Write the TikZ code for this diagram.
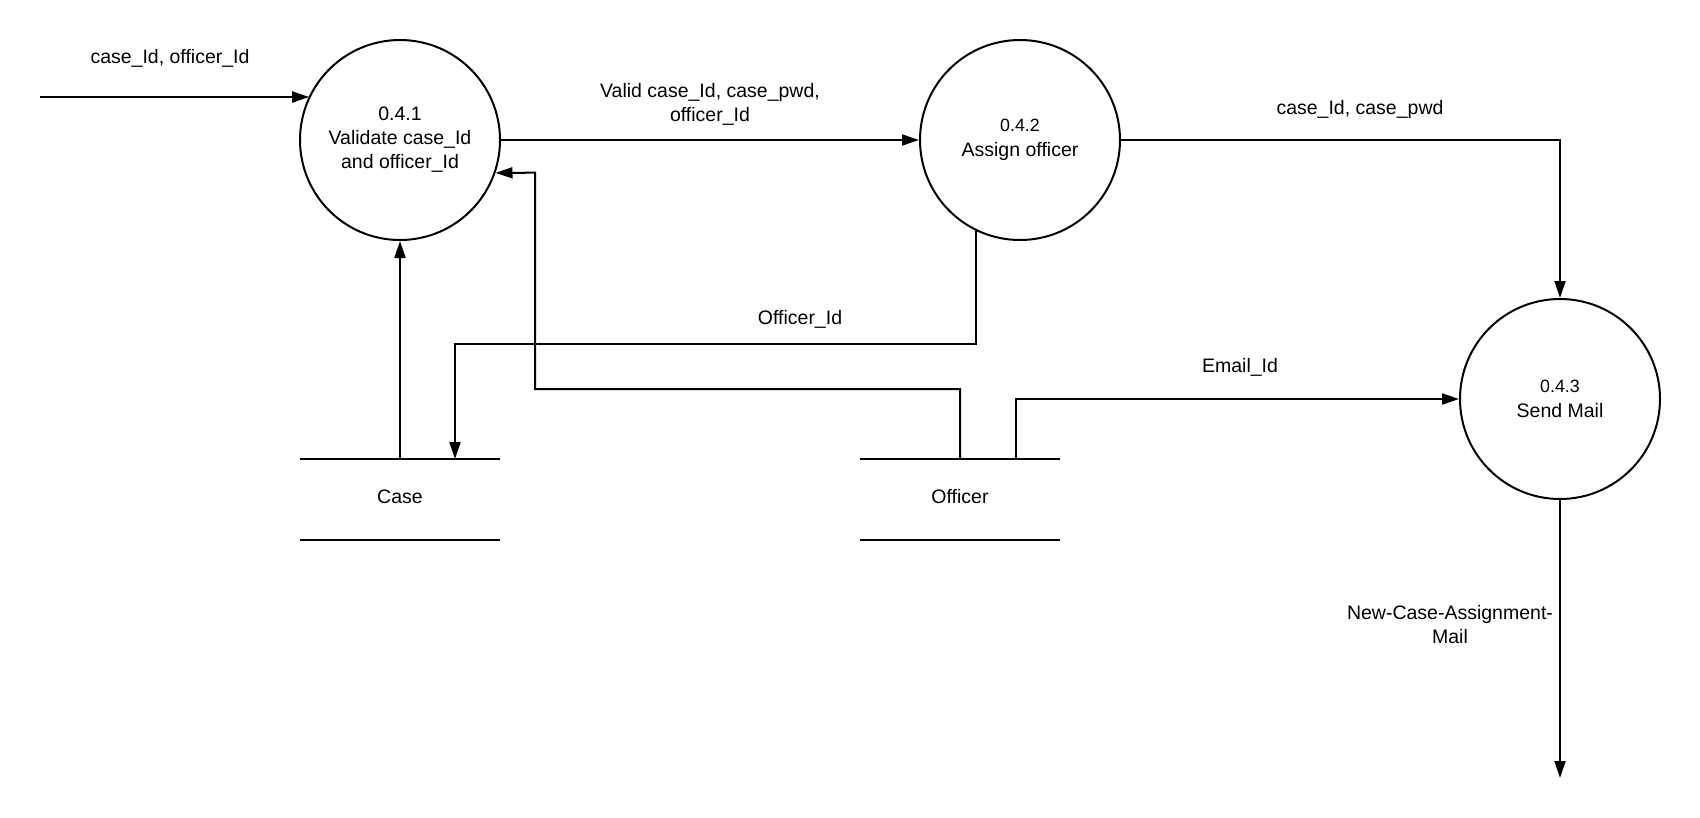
\documentclass[tikz,border=0pt]{standalone}
\usepackage{fontspec}
\setmainfont{Liberation Sans}
\usetikzlibrary{arrows.meta,calc}
\begin{document}
\begin{tikzpicture}[x=1pt,y=-1pt,
  every node/.style={font=\fontsize{19.5}{24}\selectfont, text=black},
  proc/.style={circle, draw=black, line width=2pt, minimum size=200pt, inner sep=0pt, align=center},
  storebox/.style={minimum width=200pt, minimum height=80.5pt, inner sep=0pt},
  storeline/.style={line width=2.2pt},
  flow/.style={line width=2pt, line join=miter, -{Triangle[length=17pt,width=11pt]}},
  lbl/.style={align=center, inner sep=0pt}]
\useasboundingbox[fill=white] (0,0) rectangle (1700,817);

% processes
\node[proc] (p1) at (400,140) {0.4.1\\Validate case\_Id\\and officer\_Id};
\node[proc] (p2) at (1020,140) {{\fontsize{17.8}{22}\selectfont 0.4.2}\\[1pt]Assign officer};
\node[proc] (p3) at (1560,399) {{\fontsize{17.8}{22}\selectfont 0.4.3}\\[1pt]Send Mail};

% data stores
\node[storebox] (case) at (400,499.5) {};
\node[storebox] (officer) at (960,499.5) {};
\node (casetxt) at (400,497) {Case};
\node (officertxt) at (960,497) {Officer};
\draw[storeline] (case.north west) -- (case.north east);
\draw[storeline] (case.south west) -- (case.south east);
\draw[storeline] (officer.north west) -- (officer.north east);
\draw[storeline] (officer.south west) -- (officer.south east);

% free ends
\coordinate (src) at (40,97);
\coordinate (sink) at (1560,778);

% flows
\draw[flow] (src) -- (src -| p1.154.5);
\draw[flow] (p1.east) -- (p2.west);
\draw[flow] (p2.east) -| (p3.north);
\draw[flow] (p2.244) -- (p2.244 |- 0,344) -| (case.north -| 455,0);
\draw[flow] (case.north) -- (p1.south);
\draw[flow] (officer.north) -- (officer.north |- 0,389) -| (535,172.7) -- (p1.-19.1);
\draw[flow] (officer.north -| 1016,0) |- (p3.west);
\draw[flow] (p3.south) -- (sink);

% labels
\node[lbl] (l1) at (170,58) {case\_Id, officer\_Id};
\node[lbl] (l2) at (710,104) {Valid case\_Id, case\_pwd,\\officer\_Id};
\node[lbl] (l3) at (1360,109) {case\_Id, case\_pwd};
\node[lbl] (l4) at (800,319) {Officer\_Id};
\node[lbl] (l5) at (1240,367) {Email\_Id};
\node[lbl] (l6) at (1450,625) {New-Case-Assignment-\\Mail};
\end{tikzpicture}
\end{document}
